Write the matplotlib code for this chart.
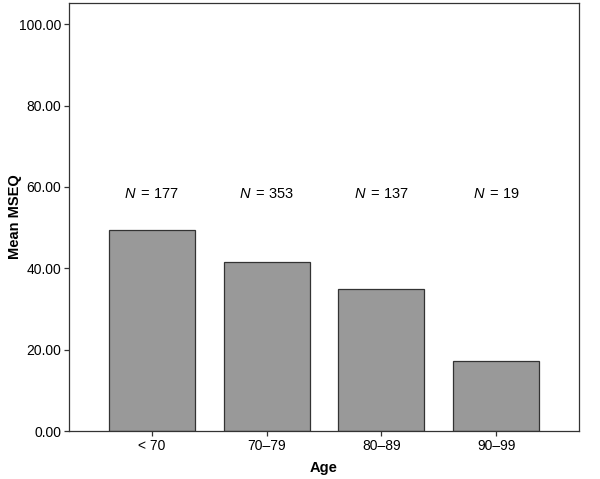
import matplotlib
matplotlib.use("Agg")
import matplotlib.pyplot as plt

categories = ["< 70", "70\u201379", "80\u201389", "90\u201399"]
means = [49.4, 41.6, 34.9, 17.2]
ns = [177, 353, 137, 19]
yticks = [0, 20, 40, 60, 80, 100]

plt.rcParams['font.family'] = ['Liberation Sans', 'DejaVu Sans']
plt.rcParams['mathtext.fontset'] = 'custom'
plt.rcParams['mathtext.it'] = 'Liberation Sans:italic'
plt.rcParams['mathtext.rm'] = 'Liberation Sans'

fig = plt.figure(figsize=(6.0, 4.79), dpi=100)
ax = fig.add_axes([0.115, 0.1002, 0.85, 0.8935])
x = list(range(len(categories)))
ax.bar(x, means, width=0.75, color="#999999", edgecolor="#333333", linewidth=0.9)
for xi, n in zip(x, ns):
    ax.text(xi, 58.2, f"$\\mathit{{N}}\\,$ = {n}", ha="center", va="center", fontsize=10.5)
ax.set_xlim(-0.723, 3.723)
ax.set_ylim(0, 105.2)
ax.set_yticks(yticks)
ax.set_yticklabels([f"{v:.2f}" for v in yticks], fontsize=10)
ax.set_xticks(x)
ax.set_xticklabels(categories, fontsize=10)
ax.set_ylabel("Mean MSEQ", fontsize=10.5, fontweight="bold")
ax.yaxis.set_label_coords(-0.092, 0.5)
ax.set_xlabel("Age", fontsize=10.5, fontweight="bold", labelpad=6)
for s in ax.spines.values():
    s.set_color("#333333")
    s.set_linewidth(0.9)
ax.tick_params(direction="out", length=3.5, color="#333333", width=0.9, pad=2)
fig.savefig("out.png", dpi=100)
